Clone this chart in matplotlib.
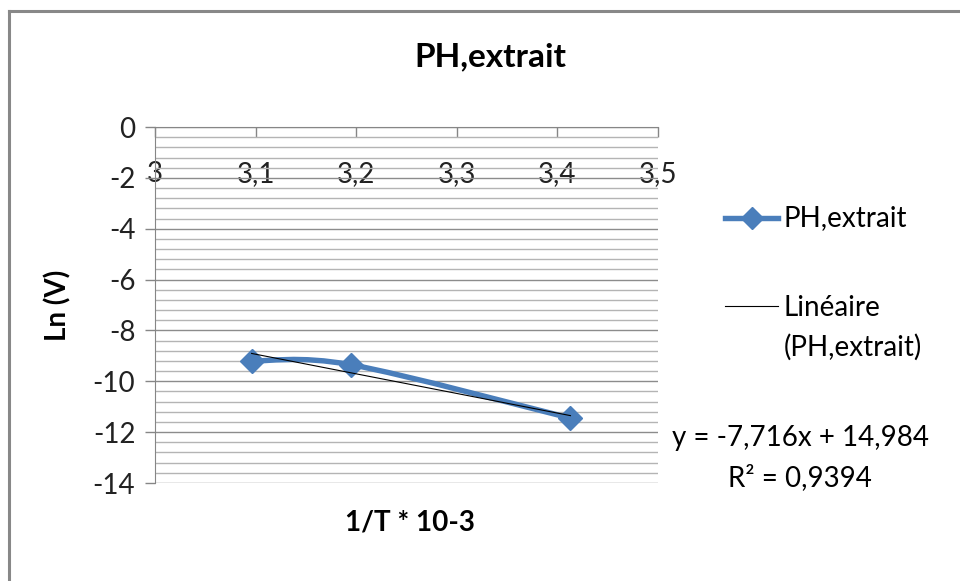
import numpy as np
import matplotlib
matplotlib.use("Agg")
import matplotlib.pyplot as plt
from matplotlib.path import Path
from matplotlib.patches import PathPatch
from matplotlib.lines import Line2D
from matplotlib.ticker import MultipleLocator, FuncFormatter

plt.rcParams['font.family'] = ['Lato', 'DejaVu Sans']

# 1/T * 10^3 for 50, 40 and 20 degC, and ln(V)
invT = [3.096, 3.195, 3.413]
lnV = [-9.2, -9.35, -11.45]

# linear trend as given by the spreadsheet
slope = -7.716
intercept = 14.984
r2 = 0.9394

series_name = "PH,extrait"
blue = "#4A7EBB"


def smooth_path(xs, ys):
    # bezier segments like the spreadsheet "smoothed line" option
    pts = np.column_stack([xs, ys])
    n = len(pts)
    verts = [pts[0]]
    codes = [Path.MOVETO]
    for i in range(n - 1):
        p0 = pts[i - 1] if i > 0 else pts[i]
        p1 = pts[i]
        p2 = pts[i + 1]
        p3 = pts[i + 2] if i + 2 < n else pts[i + 1]
        c1 = p1 + (p2 - p0) / 6.0
        c2 = p2 - (p3 - p1) / 6.0
        verts += [c1, c2, p2]
        codes += [Path.CURVE4] * 3
    return Path(verts, codes)


fig = plt.figure(figsize=(9.6, 5.81), dpi=100)
ax = fig.add_axes([155 / 960, 1 - 483 / 581, 503 / 960, 356 / 581])

ax.set_xlim(3.0, 3.5)
ax.set_ylim(-14, 0)

# gridlines
ax.yaxis.set_major_locator(MultipleLocator(2))
ax.yaxis.set_minor_locator(MultipleLocator(0.4))
ax.xaxis.set_major_locator(MultipleLocator(0.1))
ax.grid(True, axis='y', which='major', color='#8c8c8c', lw=1.0)
ax.grid(True, axis='y', which='minor', color='#b4b4b4', lw=1.0)
ax.set_axisbelow(True)

# x axis sits on y = 0, labels pushed down under it
ax.spines['bottom'].set_position(('data', 0))
ax.spines['bottom'].set_color('#868686')
ax.spines['left'].set_color('#868686')
ax.spines['top'].set_visible(False)
ax.spines['right'].set_visible(False)
ax.tick_params(axis='x', direction='out', length=7.2, width=1, color='#868686',
               pad=17, labelsize=20, labelcolor='#222222')
ax.tick_params(axis='y', which='major', direction='out', length=7.2, width=1,
               color='#868686', pad=7, labelsize=20, labelcolor='#222222')
ax.tick_params(axis='y', which='minor', length=0)

ax.xaxis.set_major_formatter(FuncFormatter(lambda v, p: f"{v:g}".replace('.', ',')))
ax.yaxis.set_major_formatter(FuncFormatter(lambda v, p: f"{int(round(v))}"))

# series with smoothed line
ax.add_patch(PathPatch(smooth_path(invT, lnV), fill=False, edgecolor=blue,
                       lw=3.9, capstyle='round', zorder=3))
ax.plot(invT, lnV, ls='none', marker='D', ms=12, color=blue, zorder=4)

# linear trend line
xt = np.array([invT[0], invT[-1]])
ax.plot(xt, slope * xt + intercept, color='black', lw=0.8, zorder=5)

fig.text(490 / 960, 1 - 57 / 581, series_name, ha='center', va='center',
         fontsize=24, fontweight='bold')
fig.text(410 / 960, 1 - 522 / 581, "1/T * 10-3", ha='center', va='center',
         fontsize=20, fontweight='bold')
fig.text(58 / 960, 1 - 305 / 581, "Ln (V)", ha='center', va='center',
         rotation=90, fontsize=20, fontweight='bold')

# legend drawn by hand
def fx(px):
    return px / 960


def fy(py):
    return 1 - py / 581


fig.add_artist(Line2D([fx(725), fx(752), fx(778)], [fy(218)] * 3, color=blue,
                      lw=3.9, marker='D', ms=11, markevery=[1]))
fig.text(fx(784), fy(218), series_name, va='center', fontsize=20)
fig.add_artist(Line2D([fx(725), fx(778)], [fy(306)] * 2, color='black', lw=0.8))
fig.text(fx(784), fy(308), "Linéaire", va='center', fontsize=20)
fig.text(fx(784), fy(347), "(PH,extrait)", va='center', fontsize=20)

eq = f"y = {slope:g}x + {intercept:g}".replace('.', ',')
fig.text(fx(800), fy(438), eq, ha='center', va='center', fontsize=20)
fig.text(fx(800), fy(478), f"R² = {r2:g}".replace('.', ','), ha='center',
         va='center', fontsize=20)

# chart frame (left and top edges)
fig.add_artist(Line2D([fx(9), fx(9)], [0, fy(11)], color='#888888', lw=2.2))
fig.add_artist(Line2D([fx(9), 1], [fy(11), fy(11)], color='#888888', lw=2.2))

fig.savefig("out.png", dpi=100)
